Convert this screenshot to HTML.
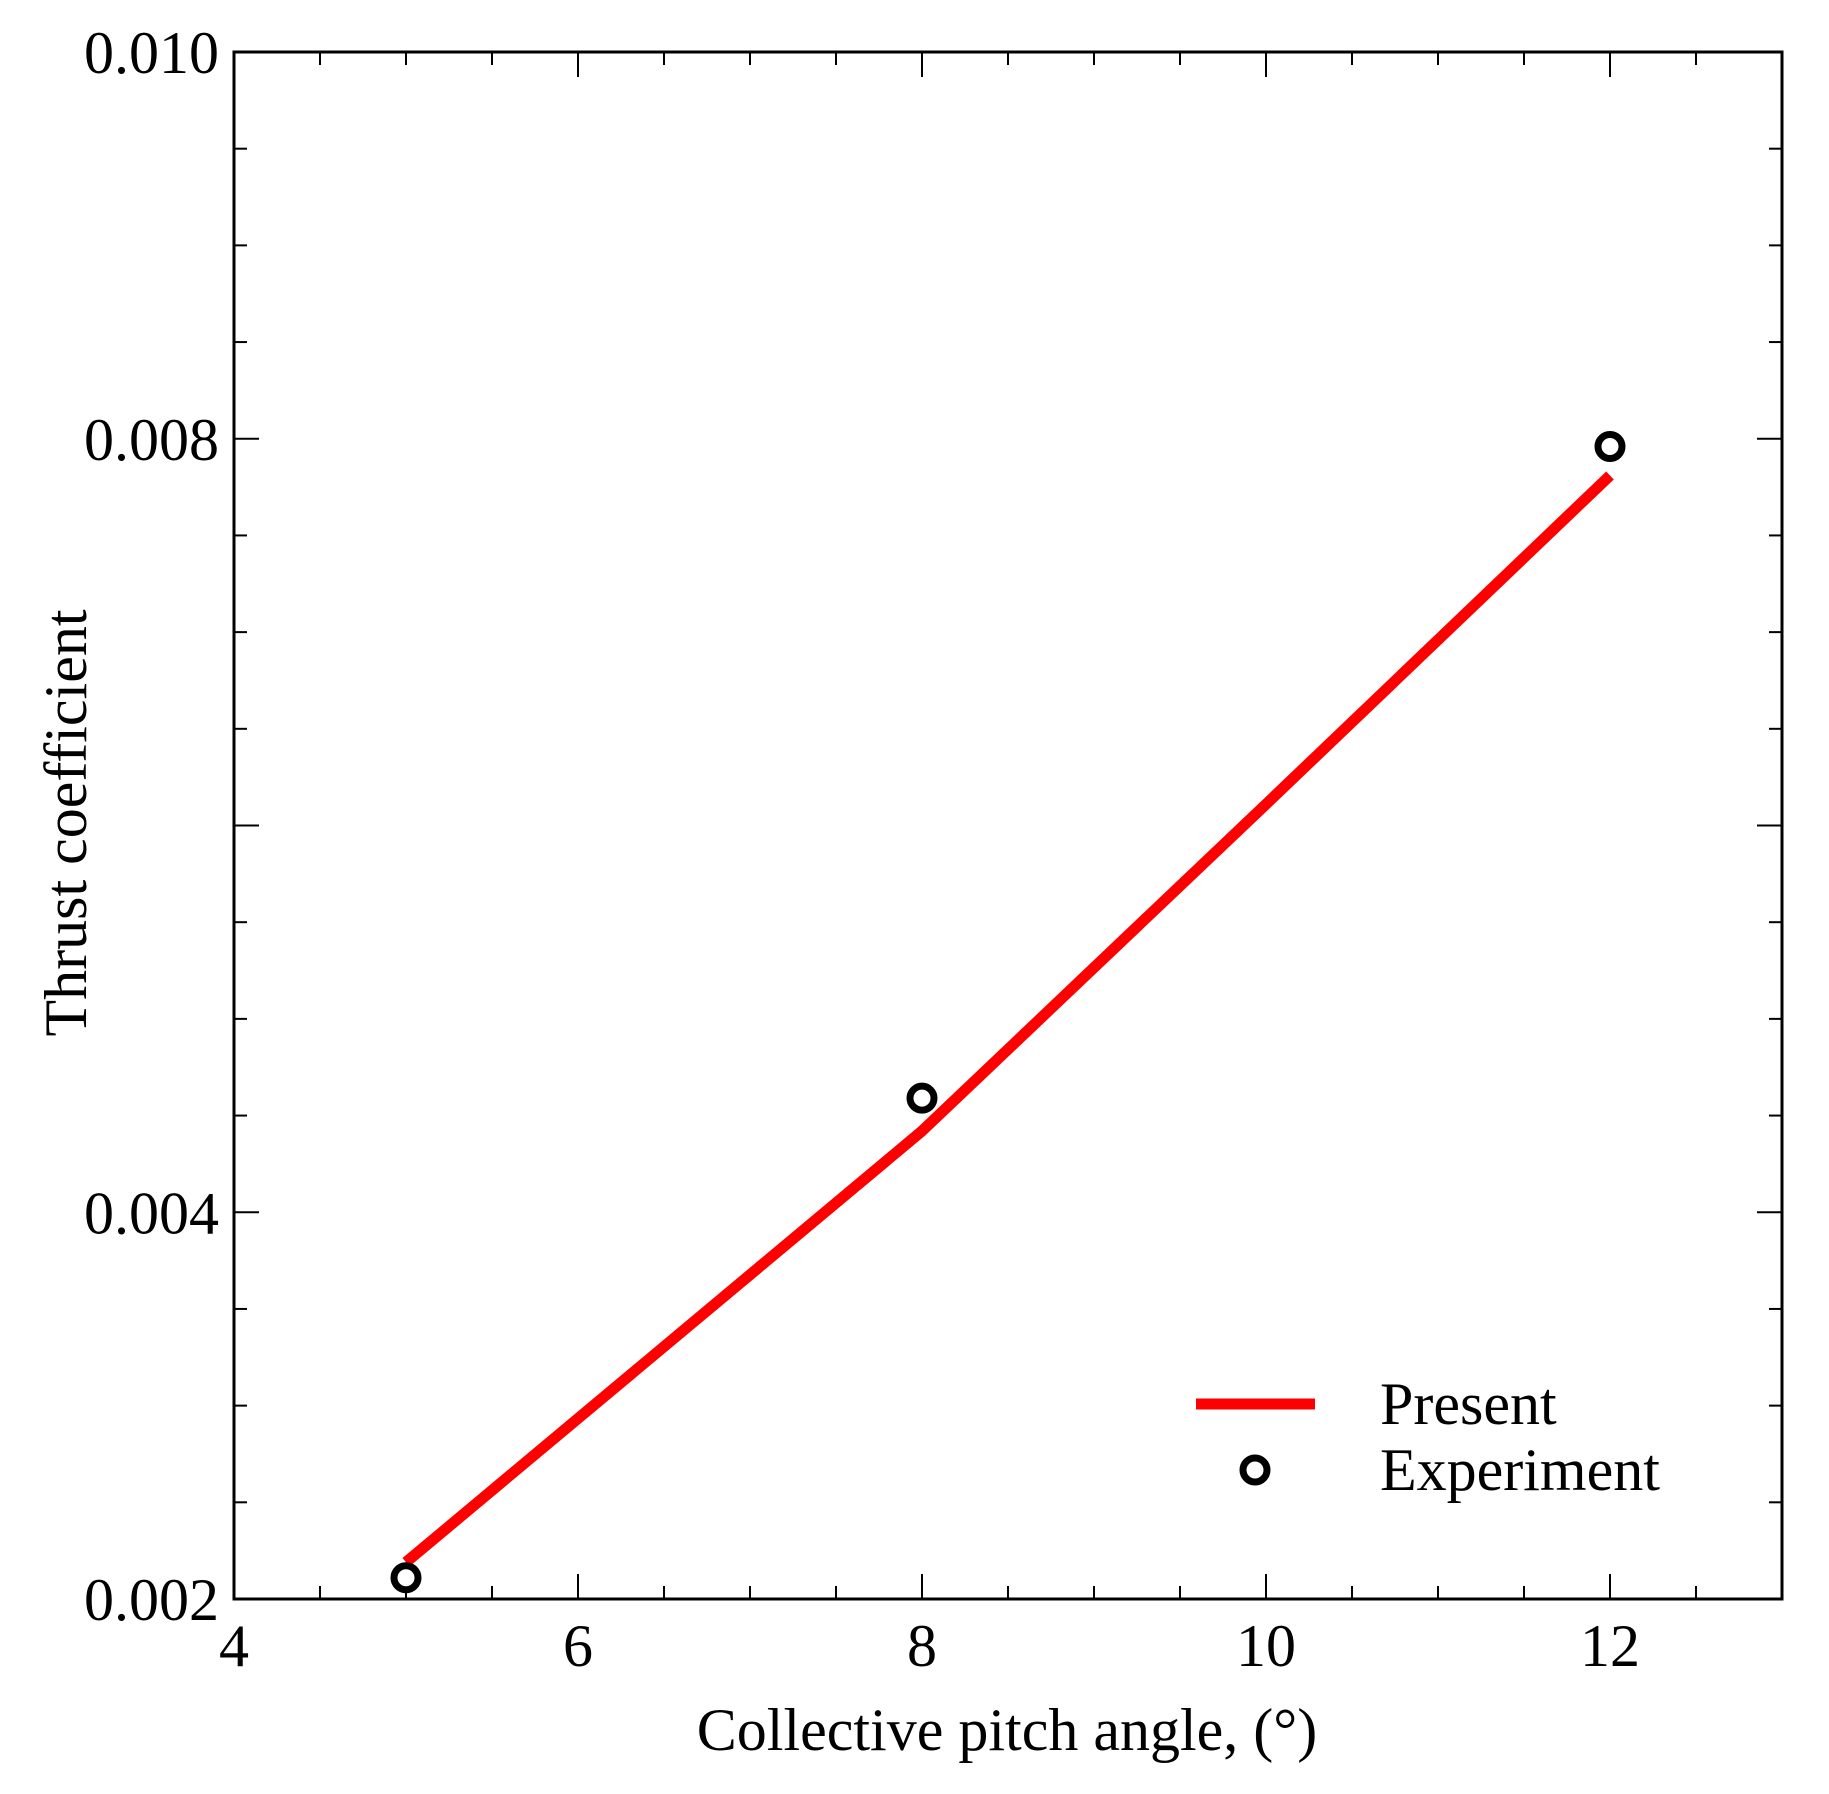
<!DOCTYPE html>
<html><head><meta charset="utf-8"><style>
html,body{margin:0;padding:0;background:#fff;}
svg{display:block;font-family:"Liberation Serif",serif;}
</style></head><body>
<svg id="chart" width="1829" height="1794" viewBox="0 0 1829 1794"></svg>
<script>
const xTicks=[4,6,8,10,12];
const yTicks=[0.002,0.004,0.008,0.010];
const lineX=[5,8,10,12];
const lineY=[0.00219,0.00442,0.00611,0.00781];
const expX=[5,8,12];
const expY=[0.00211,0.00459,0.00796];
const L=234,R=1782,T=52,B=1599;
const xmin=4,xmax=13,ymin=0.002,ymax=0.010;
const sx=v=>L+(v-xmin)/(xmax-xmin)*(R-L);
const sy=v=>B-(v-ymin)/(ymax-ymin)*(B-T);
const svg=document.getElementById('chart');
const NS='http://www.w3.org/2000/svg';
function mk(t,a,p){const e=document.createElementNS(NS,t);for(const k in a)e.setAttribute(k,a[k]);(p||svg).appendChild(e);return e;}
for(let v=4;v<=13.001;v+=0.5){
  const major=Math.abs(v-Math.round(v))<1e-6&&Math.round(v)%2===0;
  const len=major?25:13;const x=sx(v);
  const t1=mk('line',{x1:x,y1:B,x2:x,y2:B-len,stroke:'#000','stroke-width':2});
  
  
  const t2=mk('line',{x1:x,y1:T,x2:x,y2:T+len,stroke:'#000','stroke-width':2});
  
  
}
for(let i=0;i<=16;i++){
  const v=0.002+i*0.0005;const major=i%4===0;const len=major?25:13;const y=sy(v);
  const t1=mk('line',{x1:L,y1:y,x2:L+len,y2:y,stroke:'#000','stroke-width':2});
  
  
  const t2=mk('line',{x1:R,y1:y,x2:R-len,y2:y,stroke:'#000','stroke-width':2});
  
  
}
const frame=mk('rect',{x:L,y:T,width:R-L,height:B-T,fill:'none',stroke:'#000','stroke-width':3});


xTicks.forEach(v=>{
  const t=mk('text',{x:sx(v),y:1666,'font-size':60,'text-anchor':'middle'});t.textContent=v;
  
  
});
yTicks.forEach(v=>{
  const t=mk('text',{x:219,y:sy(v)+21,'font-size':60,'text-anchor':'end'});t.textContent=v.toFixed(3);
  
  
});
const xt=mk('text',{x:1007,y:1750,'font-size':60,'text-anchor':'middle'});xt.textContent='Collective pitch angle, (°)';


const yt=mk('text',{x:0,y:0,'font-size':60,'text-anchor':'middle',transform:'translate(86,823) rotate(-90)'});yt.textContent='Thrust coefficient';


const pts=lineX.map((x,i)=>sx(x)+','+sy(lineY[i])).join(' ');
const pl=mk('polyline',{points:pts,fill:'none',stroke:'#ff0000','stroke-width':11});


expX.forEach((x,i)=>{
  const c=mk('circle',{cx:sx(x),cy:sy(expY[i]),r:12,fill:'#fff',stroke:'#000','stroke-width':7});
  
  
});
const lg=mk('g',{});


const ll=mk('line',{x1:1196,y1:1404,x2:1315,y2:1404,stroke:'#ff0000','stroke-width':11},lg);


const lt=mk('text',{x:1380,y:1424,'font-size':60},lg);lt.textContent='Present';


const lc=mk('circle',{cx:1255,cy:1470,r:12,fill:'#fff',stroke:'#000','stroke-width':7},lg);


const lt2=mk('text',{x:1380,y:1490,'font-size':60},lg);lt2.textContent='Experiment';


</script>
</body></html>
